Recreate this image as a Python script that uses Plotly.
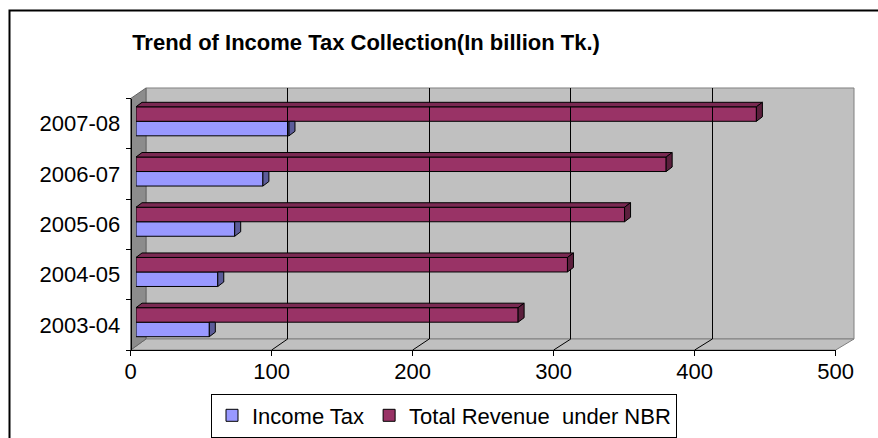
import plotly.graph_objects as go

# ---------------- data ----------------
years = ['2003-04', '2004-05', '2005-06', '2006-07', '2007-08']
income_tax = [52, 58, 70, 90, 108.5]
total_revenue = [271, 306, 346.5, 376, 440]
x_ticks = [0, 100, 200, 300, 400, 500]
series_names = ['Income Tax', 'Total Revenue\u00a0 under NBR']
title_text = 'Trend of Income Tax Collection(In billion Tk.)'

# ---------------- layout geometry (pixels) ----------------
W, H = 878, 438
FONT = 'Arial, Liberation Sans, sans-serif'
XMAX = 500

def fx(px):
    return px / W

def fy(py):
    return 1 - py / H

# bar (front-face) plane
BAR_X0, BAR_X1 = 136, 841
BAR_Y_TOP, BAR_Y_BOT = 96.2, 347.3
# front floor axis
FR_X0, FR_X1, FR_Y = 130.7, 835.7, 350
# back wall
BK_X0, BK_X1, BK_Y0, BK_Y1 = 146, 854, 88, 339
# left front edge top
LF_TOP = 98.5

BAR_W = 0.289          # bar thickness in category units
DX_PX, DY_PX = 6, 4.5  # 3D depth offset of bars in pixels

px_per_x = (BAR_X1 - BAR_X0) / XMAX
px_per_y = (BAR_Y_BOT - BAR_Y_TOP) / len(years)
dxd = DX_PX / px_per_x
dyd = DY_PX / px_per_y

IT_FRONT, IT_SIDE = '#9999FF', '#5C5C99'
RV_FRONT, RV_TOP, RV_SIDE = '#993366', '#7A2952', '#5C1F3D'
WALL, WALL_EDGE, SIDE_WALL = '#C0C0C0', '#808080', '#8C8C8C'

idx = list(range(len(years)))

fig = go.Figure()
fig.add_trace(go.Bar(
    y=idx, x=income_tax, orientation='h', name=series_names[0],
    width=BAR_W, offset=-BAR_W, marker=dict(color=IT_FRONT, line=dict(color='black', width=1)),
    xaxis='x', yaxis='y'))
fig.add_trace(go.Bar(
    y=idx, x=total_revenue, orientation='h', name=series_names[1],
    width=BAR_W, offset=0, marker=dict(color=RV_FRONT, line=dict(color='black', width=1)),
    xaxis='x', yaxis='y'))
# helper (invisible) traces to create the front axes and back wall subplot
fig.add_trace(go.Scatter(x=[0] * len(years), y=years, mode='markers', marker=dict(opacity=0),
                         showlegend=False, hoverinfo='skip', xaxis='x2', yaxis='y2'))
fig.add_trace(go.Scatter(x=[], y=[], mode='markers', showlegend=False, hoverinfo='skip',
                         xaxis='x3', yaxis='y3'))

shapes = []

def ppath(pts):
    return 'M ' + ' L '.join(f'{fx(a):.5f},{fy(b):.5f}' for a, b in pts) + ' Z'

def dpath(pts):
    return 'M ' + ' L '.join(f'{a:.4f},{b:.4f}' for a, b in pts) + ' Z'

# walls and floor
shapes.append(dict(type='path', xref='paper', yref='paper', layer='below',
                   path=ppath([(BK_X0, BK_Y0), (BK_X1, BK_Y0), (BK_X1, BK_Y1), (BK_X0, BK_Y1)]),
                   fillcolor=WALL, line=dict(color=WALL_EDGE, width=1)))
shapes.append(dict(type='path', xref='paper', yref='paper', layer='below',
                   path=ppath([(FR_X0, FR_Y), (BK_X0, BK_Y1), (BK_X1, BK_Y1), (FR_X1, FR_Y)]),
                   fillcolor=WALL, line=dict(color=WALL_EDGE, width=1)))
shapes.append(dict(type='path', xref='paper', yref='paper', layer='below',
                   path=ppath([(FR_X0, LF_TOP), (BK_X0, BK_Y0), (BK_X0, BK_Y1), (FR_X0, FR_Y)]),
                   fillcolor=SIDE_WALL, line=dict(color='#666666', width=1)))
# floor grid diagonals
for v in x_ticks[1:-1]:
    xf = FR_X0 + (FR_X1 - FR_X0) * v / XMAX
    xb = BK_X0 + (BK_X1 - BK_X0) * v / XMAX
    shapes.append(dict(type='line', xref='paper', yref='paper', layer='below',
                       x0=fx(xf), y0=fy(FR_Y), x1=fx(xb), y1=fy(BK_Y1),
                       line=dict(color='black', width=1)))

# 3D faces of bars
for i, (it, rv) in enumerate(zip(income_tax, total_revenue)):
    t, b = i + BAR_W, i
    shapes.append(dict(type='path', xref='x', yref='y', layer='above',
                       path=dpath([(0, t), (rv, t), (rv + dxd, t + dyd), (dxd, t + dyd)]),
                       fillcolor=RV_TOP, line=dict(color='black', width=1)))
    shapes.append(dict(type='path', xref='x', yref='y', layer='above',
                       path=dpath([(rv, t), (rv + dxd, t + dyd), (rv + dxd, b + dyd), (rv, b)]),
                       fillcolor=RV_SIDE, line=dict(color='black', width=1)))
    tb, bb = i, i - BAR_W
    shapes.append(dict(type='path', xref='x', yref='y', layer='above',
                       path=dpath([(it, tb), (it + dxd, tb), (it + dxd, bb + dyd), (it, bb)]),
                       fillcolor=IT_SIDE, line=dict(color='black', width=1)))

# outer frame (left and top edges visible)
shapes.append(dict(type='path', xref='paper', yref='paper', layer='above',
                   path=f'M {fx(9.5)},{fy(450)} L {fx(9.5)},{fy(10.5)} L {fx(890)},{fy(10.5)}',
                   line=dict(color='black', width=2)))

fig.update_layout(
    width=W, height=H, autosize=False,
    margin=dict(l=0, r=0, t=0, b=0, pad=0, autoexpand=False),
    paper_bgcolor='white', plot_bgcolor='rgba(0,0,0,0)',
    barmode='overlay', showlegend=True,
    font=dict(family=FONT, size=22, color='black'),
    title=dict(text=title_text, x=fx(366), y=fy(42), xref='paper', yref='paper',
               xanchor='center', yanchor='middle',
               font=dict(family=FONT, size=22, color='black', weight=700)),
    xaxis=dict(domain=[fx(BAR_X0), fx(BAR_X1)], range=[0, XMAX], visible=False, anchor='y'),
    yaxis=dict(domain=[fy(BAR_Y_BOT), fy(BAR_Y_TOP)], range=[-0.5, len(years) - 0.5],
               visible=False, anchor='x'),
    xaxis2=dict(domain=[fx(FR_X0), fx(FR_X1)], range=[0, XMAX], anchor='free', position=fy(FR_Y),
                tickvals=x_ticks, ticks='outside', ticklen=5, tickcolor='black',
                showline=True, linecolor='black', linewidth=1, showgrid=False, zeroline=False,
                ticklabelstandoff=-3,
                tickfont=dict(family=FONT, size=22, color='black')),
    yaxis2=dict(domain=[fy(FR_Y), fy(LF_TOP)], type='category', categoryorder='array',
                categoryarray=years, range=[-0.5, len(years) - 0.5],
                anchor='free', position=fx(FR_X0),
                ticks='outside', tickson='boundaries', ticklen=5, tickcolor='black',
                showline=True, linecolor='black', linewidth=1, showgrid=False,
                ticklabelstandoff=6,
                tickfont=dict(family=FONT, size=22, color='black')),
    xaxis3=dict(domain=[fx(BK_X0), fx(BK_X1)], range=[0, XMAX], anchor='y3',
                tickvals=x_ticks[1:-1], showgrid=True, gridcolor='black', gridwidth=1,
                showticklabels=False, ticks='', showline=False, zeroline=False),
    yaxis3=dict(domain=[fy(BK_Y1), fy(BK_Y0)], range=[0, 1], anchor='x3', visible=False,
                showgrid=False),
    legend=dict(orientation='h', x=fx(444), xanchor='center', y=fy(437.5), yanchor='bottom',
                bgcolor='white', bordercolor='black', borderwidth=1,
                font=dict(family=FONT, size=22, color='black')),
    shapes=shapes,
)

fig.write_html('out.html')
